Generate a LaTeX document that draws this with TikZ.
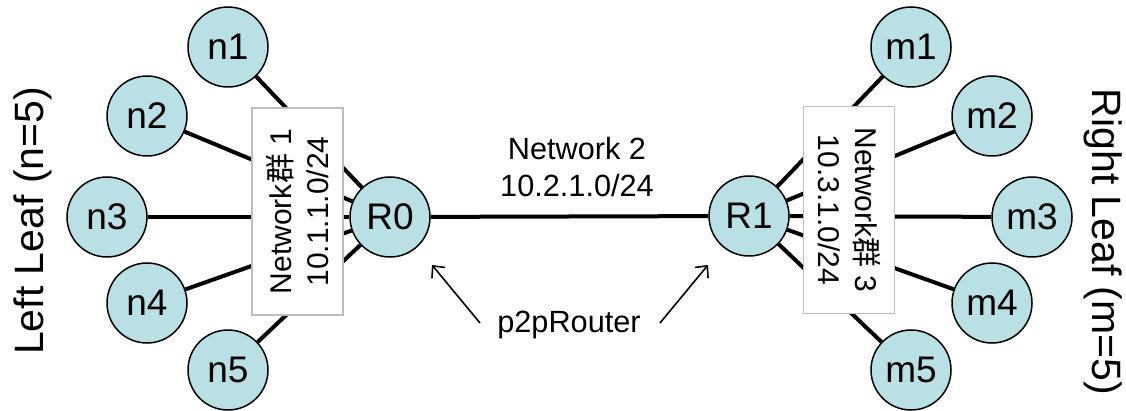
\documentclass[tikz,border=0pt]{standalone}
\usepackage{fontspec}
\setmainfont{Liberation Sans}
\newfontfamily\cjk{Noto Sans CJK SC}
\usetikzlibrary{arrows.meta}
\definecolor{hostfill}{RGB}{185,224,228}
\definecolor{boxline}{RGB}{190,190,190}
\begin{document}
\begin{tikzpicture}[x=1pt,y=-1pt,
  host/.style={circle, draw=black, line width=1.5pt, fill=hostfill,
    minimum size=80pt, inner sep=0pt, font=\fontsize{37}{44}\selectfont},
  link/.style={line width=4pt},
  netbox/.style={draw=boxline, fill=white, line width=1.3pt,
    minimum width=207pt, minimum height=91pt, inner sep=0pt, align=center,
    font=\fontsize{30}{37}\selectfont},
  lbl/.style={font=\fontsize{30.7}{37}\selectfont, inner sep=0pt, align=center},
  side/.style={font=\fontsize{41}{48}\selectfont, inner sep=0pt, anchor=base},
  pointer/.style={line width=1.6pt, -{Straight Barb[length=9pt,width=17pt,line width=1.6pt]}}
]
\useasboundingbox (0,0) rectangle (1126,411);

% routers
\node[host] (R0) at (390,217) {R0};
\node[host] (R1) at (749,216) {R1};

% left leaves
\node[host] (n1) at (228,47)  {n1};
\node[host] (n2) at (147,116) {n2};
\node[host] (n3) at (107,217) {n3};
\node[host] (n4) at (147,303) {n4};
\node[host] (n5) at (228,370) {n5};

% right leaves
\node[host] (m1) at (911,47)  {m1};
\node[host] (m2) at (992,116) {m2};
\node[host] (m3) at (1032,217) {m3};
\node[host] (m4) at (992,303) {m4};
\node[host] (m5) at (911,370) {m5};

% links
\foreach \n in {n1,n2,n3,n4,n5} \draw[link] (\n) -- (R0);
\foreach \m in {m1,m2,m3,m4,m5} \draw[link] (\m) -- (R1);
\draw[link] (R0) -- (R1);

% subnet labels laid over the links
\node[netbox, rotate=90]  (net1) at (297.5,211.5) {Network{\cjk 群} 1\\10.1.1.0/24};
\node[netbox, rotate=-90] (net3) at (849,210) {Network{\cjk 群} 3\\10.3.1.0/24};
\node[lbl] (net2) at (577,167) {Network 2\\10.2.1.0/24};

% router callout
\node[lbl, anchor=base] (p2p) at (569,332) {p2pRouter};
\coordinate (a0tail) at (480,323);
\coordinate (a0tip)  at (432,265);
\coordinate (a1tail) at (660,323);
\coordinate (a1tip)  at (708,265);
\draw[pointer] (a0tail) -- (a0tip);
\draw[pointer] (a1tail) -- (a1tip);

% side captions
\node[side, rotate=90]  (leftcap)  at (43,221)   {Left Leaf (n=5)};
\node[side, rotate=-90] (rightcap) at (1092,242) {Right Leaf (m=5)};
\end{tikzpicture}
\end{document}
